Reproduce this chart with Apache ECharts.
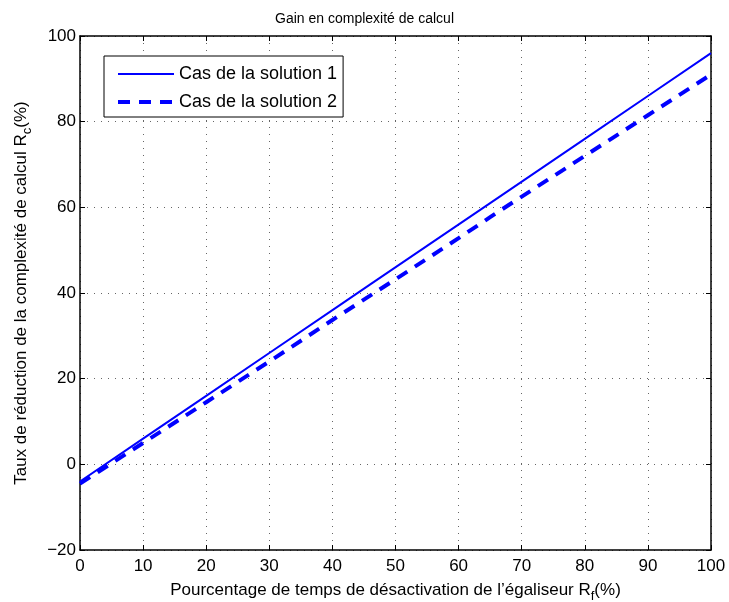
<!DOCTYPE html>
<html>
<head>
<meta charset="utf-8">
<script src="https://cdn.jsdelivr.net/npm/echarts@6/dist/echarts.min.js"></script>
<style>
  html, body { margin: 0; padding: 0; background: #fff; }
  #chart { width: 729px; height: 602px; }
</style>
</head>
<body>
<div id="chart"></div>
<script>
// Données
var xTicks = [0, 10, 20, 30, 40, 50, 60, 70, 80, 90, 100];
var sol1 = [[0, -4], [10, 6], [20, 16], [30, 26], [41, 37], [46, 42], [55, 51], [65, 61], [80, 76], [90, 86], [100, 96]];
var sol2 = [[0, -4.5], [10, 5], [20, 14.5], [30, 24], [40, 33.7], [50, 43.2], [60, 52.8], [65, 57.7], [68, 60.6], [80, 72], [90, 81.5], [100, 91]];
var seriesNames = ['Cas de la solution 1', 'Cas de la solution 2'];

var chart = echarts.init(document.getElementById('chart'));
var font = 'Liberation Sans, Arial, sans-serif';

var gridLine = { show: true, lineStyle: { color: '#666', type: [1, 6], width: 1 } };
var frameLine = { show: true, onZero: false, lineStyle: { color: '#000', width: 1.5 } };
var innerTick = { show: true, inside: true, length: 5, lineStyle: { color: '#000' } };
var minus = function (v) { return String(v).replace('-', '\u2212'); };

var option = {
    animation: false,
    backgroundColor: '#fff',
    title: {
        text: 'Gain en complexité de calcul',
        left: 'center',
        top: 7,
        textStyle: { fontFamily: font, fontSize: 14, fontWeight: 'normal', color: '#000' }
    },
    legend: {
        left: 104,
        top: 56,
        orient: 'vertical',
        itemWidth: 56,
        itemHeight: 10,
        itemGap: 10,
        padding: [9, 6, 6, 12],
        borderColor: '#000',
        borderWidth: 1,
        backgroundColor: '#fff',
        itemStyle: { opacity: 0 },
        textStyle: { fontFamily: font, fontSize: 18, color: '#000' },
        data: [
            { name: seriesNames[0], lineStyle: { width: 2 } },
            { name: seriesNames[1], lineStyle: { width: 4, type: [12, 9] } }
        ]
    },
    grid: { left: 80, right: 18, top: 36, bottom: 52, outerBoundsMode: 'none', containLabel: false },
    xAxis: [{
        type: 'value',
        min: 0, max: 100, interval: 10,
        name: 'Pourcentage de temps de désactivation de l\u2019égaliseur R{sub|f}(%)',
        nameLocation: 'middle',
        nameGap: 28,
        nameTextStyle: {
            fontFamily: font, fontSize: 17, color: '#000',
            rich: { sub: { fontFamily: font, fontSize: 13, color: '#000', padding: [12, 0, 0, 0] } }
        },
        axisLine: frameLine,
        axisTick: innerTick,
        axisLabel: { fontFamily: font, fontSize: 17, color: '#000', margin: 8 },
        splitLine: gridLine
    }, {
        type: 'value', position: 'top',
        min: 0, max: 100, interval: 10,
        axisLine: frameLine,
        axisTick: innerTick,
        axisLabel: { show: false },
        splitLine: { show: false }
    }],
    yAxis: [{
        type: 'value',
        min: -20, max: 100, interval: 20,
        name: 'Taux de réduction de la complexité de calcul R{sub|c}(%)',
        nameLocation: 'middle',
        nameGap: 46,
        nameTextStyle: {
            fontFamily: font, fontSize: 17, color: '#000',
            rich: { sub: { fontFamily: font, fontSize: 13, color: '#000', padding: [12, 0, 0, 0] } }
        },
        axisLine: frameLine,
        axisTick: innerTick,
        axisLabel: { fontFamily: font, fontSize: 17, color: '#000', margin: 4, formatter: minus },
        splitLine: gridLine
    }, {
        type: 'value', position: 'right',
        min: -20, max: 100, interval: 20,
        axisLine: frameLine,
        axisTick: innerTick,
        axisLabel: { show: false },
        splitLine: { show: false }
    }],
    series: [{
        name: seriesNames[0],
        type: 'line',
        data: sol1,
        showSymbol: false,
        symbol: 'none',
        lineStyle: { color: '#0000ff', width: 2, type: 'solid' },
        itemStyle: { color: '#0000ff' }
    }, {
        name: seriesNames[1],
        type: 'line',
        data: sol2,
        showSymbol: false,
        symbol: 'none',
        lineStyle: { color: '#0000ff', width: 4, type: [12, 9] },
        itemStyle: { color: '#0000ff' }
    }]
};

chart.setOption(option);
</script>
</body>
</html>
